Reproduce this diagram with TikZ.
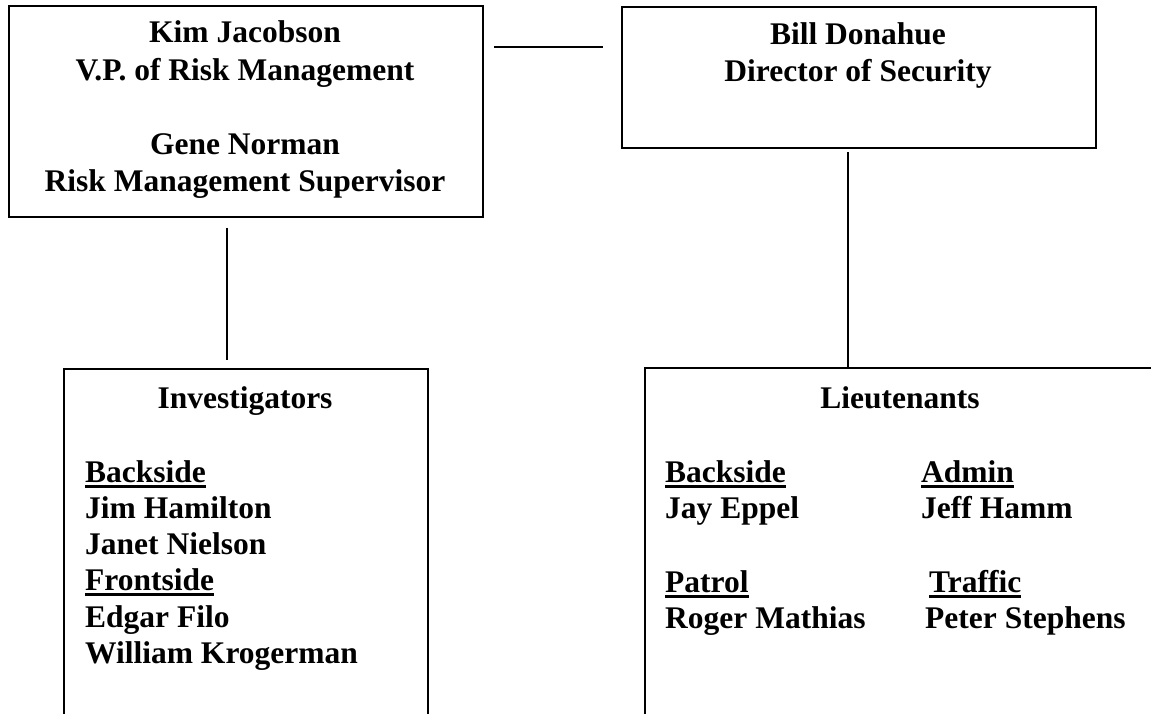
\documentclass[tikz,border=0pt]{standalone}
\usepackage{fontspec}
\setmainfont{Liberation Serif}
\newcommand\ulbox[1]{\setbox0\hbox{#1}\rlap{\vrule height -2.5pt depth 5.5pt width \wd0}\box0}
\tikzset{
  box/.style={draw, line width=2pt, inner sep=0pt, anchor=north west},
  conn/.style={line width=1.6pt},
  txt/.style={inner sep=0pt, font=\fontsize{31.5}{37}\selectfont\bfseries},
  ctxt/.style={txt, anchor=base},
  ltxt/.style={txt, anchor=base west},
}
\begin{document}
\begin{tikzpicture}[x=1pt, y=-1pt]
\useasboundingbox (0,0) rectangle (1151,714);
\clip (0,0) rectangle (1151,714);
\fill[white] (0,0) rectangle (1151,714);

% boxes
\node[box, minimum width=474pt, minimum height=211pt] (rm) at (8,5) {};
\node[box, minimum width=474pt, minimum height=141pt] (sec) at (621,6) {};
\node[box, minimum width=364pt, minimum height=432pt] (inv) at (63,368) {};
\node[box, minimum width=516pt, minimum height=433pt] (lt) at (644,367) {};

% connectors
\coordinate (h1) at (494,47);
\coordinate (h2) at (603,47);
\coordinate (v1) at (227,228);
\coordinate (v2) at (227,360);
\coordinate (v3) at (848,152);
\draw[conn] (h1) -- (h2);
\draw[conn] (v1) -- (v2);
\draw[conn] (v3) -- (v3 |- lt.north);

% top-left text
\node[ctxt] (t1) at (245,43) {Kim Jacobson};
\node[ctxt] (t2) at (245,80.5) {V.P. of Risk Management};
\node[ctxt] (t3) at (245,155) {Gene Norman};
\node[ctxt] (t4) at (245,192) {Risk Management Supervisor};

% top-right text
\node[ctxt] (s1) at (858,44.5) {Bill Donahue};
\node[ctxt] (s2) at (858,82) {Director of Security};

% investigators
\node[ctxt] (i0) at (245,408) {Investigators};
\node[ltxt] (i1) at (85,482) {\ulbox{Backside}};
\node[ltxt] (i2) at (85,518.3) {Jim Hamilton};
\node[ltxt] (i3) at (85,554.6) {Janet Nielson};
\node[ltxt] (i4) at (85,590.9) {\ulbox{Frontside}};
\node[ltxt] (i5) at (85,627.2) {Edgar Filo};
\node[ltxt] (i6) at (85,663.5) {William Krogerman};

% lieutenants
\node[ctxt] (l0) at (900,408) {Lieutenants};
\node[ltxt] (l1) at (665,482) {\ulbox{Backside}};
\node[ltxt] (l2) at (665,518) {Jay Eppel};
\node[ltxt] (l3) at (665,592) {\ulbox{Patrol}};
\node[ltxt] (l4) at (665,628) {Roger Mathias};
\node[ltxt] (r1) at (921,482) {\ulbox{Admin}};
\node[ltxt] (r2) at (921,518) {Jeff Hamm};
\node[ltxt] (r3) at (929,592) {\ulbox{Traffic}};
\node[ltxt] (r4) at (925,628) {Peter Stephens};
\end{tikzpicture}
\end{document}
